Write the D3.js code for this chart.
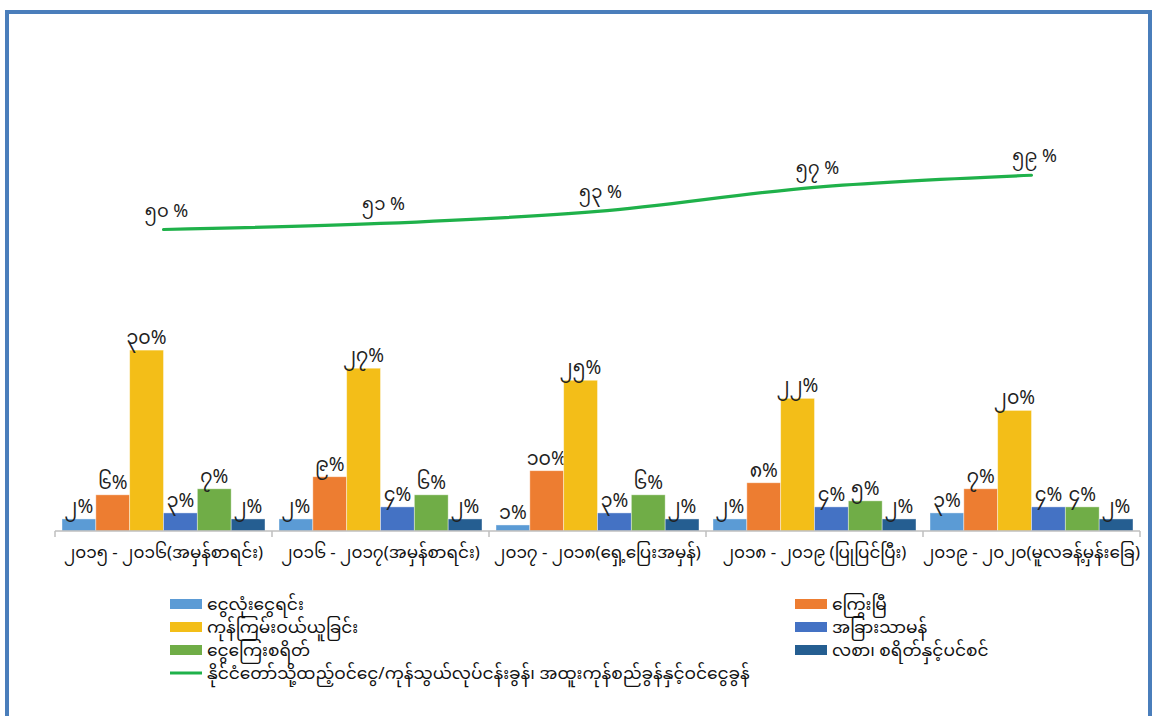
<!DOCTYPE html>
<html><head><meta charset="utf-8">
<script src="https://cdn.jsdelivr.net/npm/d3@7"></script>
<style>
html,body{margin:0;padding:0;background:#fff;}
svg{display:block;font-family:"Noto Sans Myanmar","Padauk","Myanmar Text","Noto Sans",sans-serif;}
</style></head>
<body>
<svg id="c" width="1155" height="716"></svg>
<script>
const categories = ["၂၀၁၅ - ၂၀၁၆(အမှန်စာရင်း)","၂၀၁၆ - ၂၀၁၇(အမှန်စာရင်း)","၂၀၁၇ - ၂၀၁၈(ရှေ့ပြေးအမှန်)","၂၀၁၈ - ၂၀၁၉ (ပြုပြင်ပြီး)","၂၀၁၉ - ၂၀၂၀(မူလခန့်မှန်းခြေ)"];
const seriesNames = ["ငွေလုံးငွေရင်း","ကြွေးမြီ","ကုန်ကြမ်းဝယ်ယူခြင်း","အခြားသာမန်","ငွေကြေးစရိတ်","လစာ၊ စရိတ်နှင့်ပင်စင်"];
const capital   = [2, 2, 1, 2, 3];
const debt      = [6, 9, 10, 8, 7];
const materials = [30, 27, 25, 22, 20];
const otherReg  = [3, 4, 3, 4, 4];
const finance   = [7, 6, 6, 5, 4];
const salary    = [2, 2, 2, 2, 2];
const lineName = "နိုင်ငံတော်သို့ထည့်ဝင်ငွေ/ကုန်သွယ်လုပ်ငန်းခွန်၊ အထူးကုန်စည်ခွန်နှင့်ဝင်ငွေခွန်";
const lineValues = [50, 51, 53, 57, 59];
const myDigits = ["၀","၁","၂","၃","၄","၅","၆","၇","၈","၉"];
const colors = ["#5B9BD5","#ED7D31","#F3BE18","#4472C4","#70AD47","#255E91"];
const lineColor = "#1FB14A";

const seriesVals = [capital, debt, materials, otherReg, finance, salary];
const toMy = n => String(n).split("").map(c => myDigits[+c] ?? c).join("");

const svg = d3.select("#c");
// frame
svg.append("rect").attr("x",7).attr("y",12).attr("width",1143).attr("height",720)
  .attr("fill","none").attr("stroke","#4A7EBB").attr("stroke-width",4);

const x0 = d3.scaleBand().domain(categories).range([55,1140]).paddingInner(0).paddingOuter(0);
const x1 = d3.scaleBand().domain(d3.range(6)).range([7, x0.bandwidth()-7]).padding(0);
const y = d3.scaleLinear().domain([0,80]).range([531, 531-6.03*80]);

// bars
const g = svg.append("g");
categories.forEach((c,i)=>{
  const gg = g.append("g").attr("transform",`translate(${x0(c)},0)`);
  seriesVals.forEach((vals,s)=>{
    gg.append("rect").attr("x",x1(s)).attr("y",y(vals[i])).attr("width",x1.bandwidth())
      .attr("height",y(0)-y(vals[i])).attr("fill",colors[s])
      .attr("stroke","rgba(255,255,255,0.5)").attr("stroke-width",0.8);
    gg.append("text").attr("x",x1(s)+x1.bandwidth()/2).attr("y",y(vals[i])-6)
      .attr("text-anchor","middle").attr("font-size",19).attr("fill","#222")
      .text(toMy(vals[i])+"%");
  });
});

// axis
const axis = svg.append("g").attr("transform","translate(0,531)");
axis.append("line").attr("x1",55).attr("x2",1140).attr("y1",0).attr("y2",0).attr("stroke","#BFBFBF").attr("stroke-width",1.5);
[...categories.map(c=>x0(c)), 1140].forEach(xx=>{
  axis.append("line").attr("x1",xx).attr("x2",xx).attr("y1",0).attr("y2",6).attr("stroke","#BFBFBF").attr("stroke-width",1.5);
});
categories.forEach(c=>{
  axis.append("text").attr("x",x0(c)+x0.bandwidth()/2).attr("y",27).attr("text-anchor","middle")
    .attr("font-size",16.8).attr("fill","#111").text(c);
});

// line
const pts = lineValues.map((v,i)=>[x0(categories[i])+x0.bandwidth()/2, y(v)]);
svg.append("path").attr("d", d3.line().curve(d3.curveMonotoneX)(pts))
  .attr("fill","none").attr("stroke",lineColor).attr("stroke-width",3.2).attr("stroke-linecap","round");
pts.forEach((p,i)=>{
  svg.append("text").attr("x",p[0]+3).attr("y",p[1]-13).attr("text-anchor","middle")
    .attr("font-size",18).attr("fill","#222").text(toMy(lineValues[i])+" %");
});

// legend
const leg = svg.append("g");
const legPos = [[170,604],[795,604],[170,627],[795,627],[170,650],[795,650]];
seriesNames.forEach((n,s)=>{
  const [lx,ly] = legPos[s];
  leg.append("rect").attr("x",lx).attr("y",ly-5).attr("width",32).attr("height",10).attr("fill",colors[s]);
  leg.append("text").attr("x",lx+37).attr("y",ly+6).attr("font-size",17).attr("fill","#111").text(n);
});
leg.append("line").attr("x1",170).attr("x2",202).attr("y1",673).attr("y2",673).attr("stroke",lineColor).attr("stroke-width",3);
leg.append("text").attr("x",207).attr("y",679).attr("font-size",17).attr("fill","#111").text(lineName);
</script>
</body></html>
